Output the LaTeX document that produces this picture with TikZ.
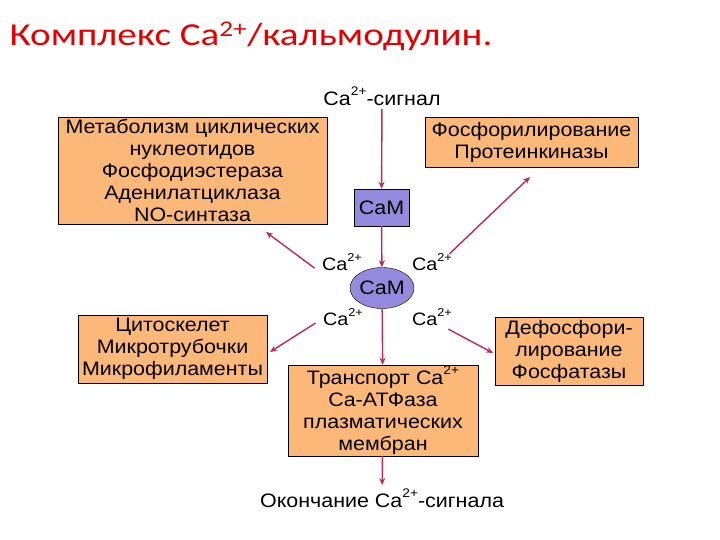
\documentclass[tikz,border=0pt]{standalone}
\usepackage{fontspec}
\setmainfont{Liberation Sans}[FakeStretch=1.1]
\newfontfamily\titlefont{Carlito}[FakeStretch=1.22]
\usepackage{tikz}
\usetikzlibrary{arrows.meta,positioning,shapes.geometric}
\definecolor{boxorange}{RGB}{252,184,120}
\definecolor{camblue}{RGB}{150,138,222}
\definecolor{arrred}{RGB}{192,40,92}
\definecolor{titlered}{RGB}{228,0,0}
\newcommand{\caion}{Ca\raisebox{0.5em}{\scalebox{0.64}{2+}}}

\begin{document}
\begin{tikzpicture}[x=1pt, y=-1pt, every node/.style={font=\fontsize{19.5}{22}\selectfont},
  box/.style={draw, thin, fill=boxorange, align=center, inner sep=1pt},
  calabel/.style={font=\fontsize{18}{20}\selectfont},
  arr/.style={-{Stealth[length=7pt,width=6pt]}, line width=1.4pt, arrred}]
  \useasboundingbox (0,0) rectangle (720,540);
			\node[anchor=base west, text=titlered, font=\titlefont\fontsize{32}{36}\selectfont] (title) at (6,46) {Комплекс Ca\textsuperscript{2+}/кальмодулин.};
			
			\node (signal) at (382,96) {\caion-сигнал};
			\node[box, minimum width=269pt, minimum height=107pt] (metab) at (192.5,170.5) {Метаболизм циклических\\нуклеотидов\\Фосфодиэстераза\\Аденилатциклаза\\NO-синтаза};
			\node[box, minimum width=213pt, minimum height=50pt] (phos) at (531.5,142) {Фосфорилирование\\Протеинкиназы};
			\node[draw, thin, fill=camblue, minimum width=55pt, minimum height=37pt, inner sep=1pt] (camr) at (381.5,207.5) {CaM};
			\node[draw, thin, fill=camblue, ellipse, minimum width=61pt, minimum height=41pt, inner sep=0pt] (came) at (382,288) {CaM};
			
			\node[calabel] (caUL) at (342,262) {\caion};
			\node[calabel] (caUR) at (432,262) {\caion};
			\node[calabel] (caLL) at (343,317) {\caion};
			\node[calabel] (caLR) at (432,317) {\caion};
			
			\node[box, minimum width=189pt, minimum height=68pt] (cyto) at (172.5,349) {Цитоскелет\\Микротрубочки\\Микрофиламенты};
			\node[box, minimum width=190pt, minimum height=91pt] (trans) at (383,410.5) {Транспорт \caion\\Ca-АТФаза\\плазматических\\мембран};
			\node[box, minimum width=148pt, minimum height=68pt] (dephos) at (569,351) {Дефосфори-\\лирование\\Фосфатазы};
			\node (end) at (382,498) {Окончание \caion-сигнала};
			
			\coordinate (tipUL) at (266,232);
			\coordinate (tipUR) at (530,177);
			\coordinate (tipLL) at (270,352);
			\coordinate (tipLR) at (493,353);
			
			\draw[arr] (signal) -- (camr);
			\draw[arr] (camr) -- (came);
			\draw[arr] (came) -- (trans);
			\draw[arr] (trans) -- (end);
			\draw[arr] (caUL.south west) ++(-4,-6) -- (tipUL);
			\draw[arr] (caUR.north east) ++(-6,4) -- (tipUR);
			\draw[arr] (caLL.west) ++(-4,6) -- (tipLL);
			\draw[arr] (caLR.south east) ++(-7,0) -- (tipLR);
		\end{tikzpicture}
\end{document}
